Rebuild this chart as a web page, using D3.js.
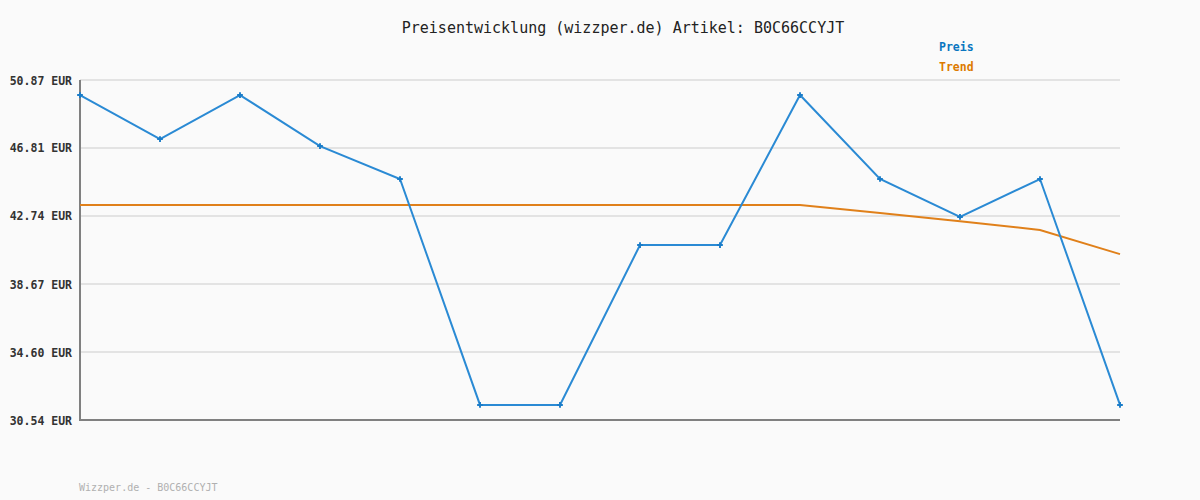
<!DOCTYPE html>
<html><head><meta charset="utf-8">
<script src="https://cdn.jsdelivr.net/npm/d3@7"></script>
<style>
html,body{margin:0;padding:0;background:#fafafa;}
svg{display:block;}
</style></head>
<body>
<script>
const title = "Preisentwicklung (wizzper.de) Artikel: B0C66CCYJT";
const footer = "Wizzper.de - B0C66CCYJT";
const seriesNames = ["Preis", "Trend"];
const seriesColors = ["#2a8ad4", "#e0801a"];
const legendColors = ["#0a76c0", "#dd7a00"];
const xIndex = [0,1,2,3,4,5,6,7,8,9,10,11,12,13];
const preis = [49.97, 47.34, 49.97, 46.92, 44.95, 31.44, 31.44, 41.00, 41.00, 49.97, 44.95, 42.68, 44.95, 31.44];
const trend = [43.39, 43.39, 43.39, 43.39, 43.39, 43.39, 43.39, 43.39, 43.39, 43.39, 42.92, 42.43, 41.90, 40.46];
const yTicks = [30.54, 34.60, 38.67, 42.74, 46.81, 50.87];

const W = 1200, H = 500;
const svg = d3.select("body").append("svg").attr("width", W).attr("height", H);
svg.append("rect").attr("width", W).attr("height", H).attr("fill", "#fafafa");

const x = d3.scaleLinear().domain([0, 13]).range([80, 1120]);
const y = d3.scaleLinear().domain([30.54, 50.87]).range([420, 80]);

// grid
svg.append("g").selectAll("line").data(yTicks.slice(1)).join("line")
  .attr("x1", 80).attr("x2", 1120)
  .attr("y1", d => Math.round(y(d))).attr("y2", d => Math.round(y(d)))
  .attr("stroke", "#e3e3e3").attr("stroke-width", 2);

// y axis labels
const yAxis = d3.axisLeft(y).tickValues(yTicks).tickSize(0).tickPadding(8)
  .tickFormat(d => d.toFixed(2) + " EUR");
const ga = svg.append("g").attr("transform", "translate(80,0)").call(yAxis);
ga.select(".domain").remove();
ga.selectAll("text").attr("font-family", "DejaVu Sans Mono").attr("font-size", "11.5px")
  .attr("font-weight", "bold").attr("fill", "#333").attr("dy", "0.35em");

// axes lines
svg.append("line").attr("x1", 80).attr("x2", 80).attr("y1", 80).attr("y2", 421)
  .attr("stroke", "#808080").attr("stroke-width", 2);
svg.append("line").attr("x1", 79).attr("x2", 1120).attr("y1", 420).attr("y2", 420)
  .attr("stroke", "#808080").attr("stroke-width", 2);

const line = d3.line().x((d, i) => x(xIndex[i])).y(d => y(d));

svg.append("path").datum(trend).attr("d", line).attr("fill", "none")
  .attr("stroke", seriesColors[1]).attr("stroke-width", 2);
svg.append("path").datum(preis).attr("d", line).attr("fill", "none")
  .attr("stroke", seriesColors[0]).attr("stroke-width", 2);

svg.append("g").selectAll("path").data(preis).join("path")
  .attr("transform", (d, i) => `translate(${x(xIndex[i])},${y(d)})`)
  .attr("d", d3.symbol(d3.symbolCross, 18))
  .attr("fill", "#1a7cc8");

// title
svg.append("text").attr("x", 623).attr("y", 33).attr("text-anchor", "middle")
  .attr("font-family", "DejaVu Sans Mono").attr("font-size", "15px").attr("fill", "#222")
  .text(title);

// legend
seriesNames.forEach((n, i) => {
  svg.append("text").attr("x", 939).attr("y", 51 + i * 20)
    .attr("font-family", "DejaVu Sans Mono").attr("font-size", "11.5px").attr("font-weight", "bold")
    .attr("fill", legendColors[i]).text(n);
});

// footer
svg.append("text").attr("x", 79).attr("y", 491)
  .attr("font-family", "DejaVu Sans Mono").attr("font-size", "10px").attr("fill", "#b0b0b0")
  .text(footer);
</script>
</body></html>
